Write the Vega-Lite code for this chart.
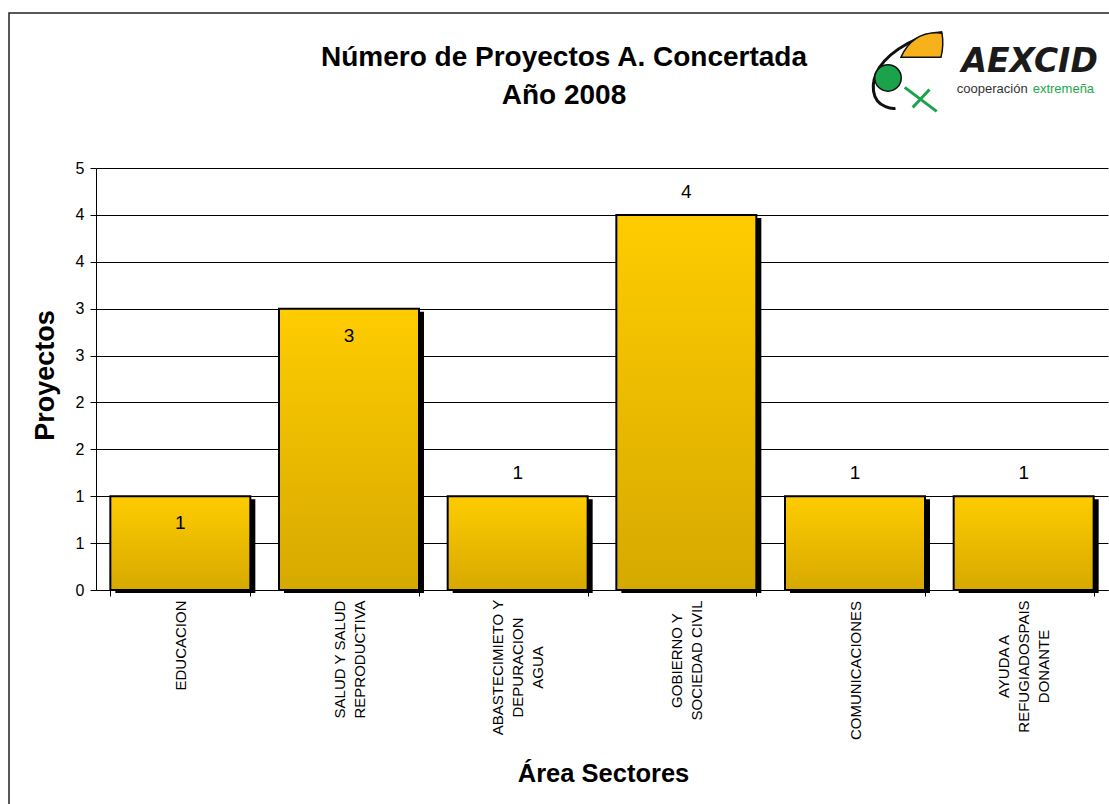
{
  "$schema": "https://vega.github.io/schema/vega-lite/v6.json",
  "autosize": {"type": "none"},
  "padding": {"left": 9, "top": 13, "right": 0, "bottom": 0},
  "width": 1110,
  "height": 800,
  "background": "white",
  "view": {"stroke": "#222", "strokeWidth": 1.5},
  "config": {"font": "Liberation Sans"},
  "title": {
    "text": ["Número de Proyectos A. Concertada", "Año 2008"],
    "anchor": "middle",
    "frame": "group",
    "offset": -97,
    "fontSize": 28,
    "fontWeight": "bold",
    "font": "Liberation Sans",
    "lineHeight": 38,
    "color": "#000"
  },
  "layer": [
    {
      "data": {
        "values": [
          {"sector": "EDUCACION", "proyectos": 1},
          {"sector": "SALUD Y SALUD|REPRODUCTIVA", "proyectos": 3},
          {"sector": "ABASTECIMIETO Y|DEPURACION|AGUA", "proyectos": 1},
          {"sector": "GOBIERNO Y|SOCIEDAD CIVIL", "proyectos": 4},
          {"sector": "COMUNICACIONES", "proyectos": 1},
          {"sector": "AYUDA A|REFUGIADOSPAIS|DONANTE", "proyectos": 1}
        ]
      },
      "encoding": {
        "x": {
          "field": "sector",
          "type": "nominal",
          "sort": null,
          "scale": {"range": [87, 1099], "paddingInner": 0.17, "paddingOuter": 0.085},
          "axis": {
            "title": "Área Sectores",
            "titleFontSize": 25.5,
            "titleFontWeight": "bold",
            "titleColor": "#000",
            "titleX": 594,
            "titleY": 183,
            "titleBaseline": "middle",
            "titleAlign": "center",
            "offset": -223,
            "labelAngle": -90,
            "labelAlign": "center",
            "labelBaseline": "middle",
            "labelFontSize": 15,
            "labelLineHeight": 20,
            "labelPadding": {
              "condition": [
                {"test": "datum.value == 'EDUCACION'", "value": 49},
                {"test": "datum.value == 'SALUD Y SALUD|REPRODUCTIVA'", "value": 63},
                {"test": "datum.value == 'ABASTECIMIETO Y|DEPURACION|AGUA'", "value": 71},
                {"test": "datum.value == 'GOBIERNO Y|SOCIEDAD CIVIL'", "value": 64},
                {"test": "datum.value == 'COMUNICACIONES'", "value": 74}
              ],
              "value": 70
            },
            "labelOffset": {
              "condition": [
                {"test": "datum.value == 'SALUD Y SALUD|REPRODUCTIVA' || datum.value == 'GOBIERNO Y|SOCIEDAD CIVIL'", "value": -10},
                {"test": "datum.value == 'ABASTECIMIETO Y|DEPURACION|AGUA' || datum.value == 'AYUDA A|REFUGIADOSPAIS|DONANTE'", "value": -20}
              ],
              "value": 0
            },
            "labelLimit": 0,
            "labelColor": "#000",
            "labelExpr": "split(datum.label, '|')",
            "tickBand": "extent",
            "tickSize": 6,
            "tickColor": "#000",
            "domainColor": "#000",
            "grid": false
          }
        },
        "y": {
          "field": "proyectos",
          "type": "quantitative",
          "scale": {"domain": [0, 4.5], "nice": false, "range": [577, 155]},
          "axis": {
            "title": "Proyectos",
            "titleFontSize": 27,
            "titleFontWeight": "bold",
            "titleColor": "#000",
            "titleAngle": 270,
            "titleX": -51,
            "titleY": 362,
            "titleBaseline": "middle",
            "titleAlign": "center",
            "offset": -87,
            "values": [0, 0.5, 1, 1.5, 2, 2.5, 3, 3.5, 4, 4.5],
            "format": ".0f",
            "labelFontSize": 16,
            "labelPadding": 6,
            "labelColor": "#000",
            "tickSize": 6,
            "tickColor": "#000",
            "domainColor": "#000",
            "grid": true,
            "gridColor": "#000",
            "gridWidth": 1
          }
        }
      },
      "layer": [
        {"mark": {"type": "bar", "color": "#000", "xOffset": 5, "yOffset": 3}},
        {
          "mark": {
            "type": "bar",
            "fill": {
              "gradient": "linear", "x1": 0, "y1": 0, "x2": 0, "y2": 1,
              "stops": [{"offset": 0, "color": "#FFCC00"}, {"offset": 1, "color": "#D6A900"}]
            },
            "stroke": "#000",
            "strokeWidth": 2
          }
        },
        {
          "transform": [{"filter": "datum.sector == 'EDUCACION' || datum.sector == 'SALUD Y SALUD|REPRODUCTIVA'"}],
          "mark": {"type": "text", "dy": 27, "fontSize": 19, "color": "#000", "baseline": "middle"},
          "encoding": {"text": {"field": "proyectos", "type": "quantitative"}}
        },
        {
          "transform": [{"filter": "datum.sector != 'EDUCACION' && datum.sector != 'SALUD Y SALUD|REPRODUCTIVA'"}],
          "mark": {"type": "text", "dy": -23, "fontSize": 19, "color": "#000", "baseline": "middle"},
          "encoding": {"text": {"field": "proyectos", "type": "quantitative"}}
        }
      ]
    },
    {
      "data": {"values": [{"t": "AEXCID"}]},
      "mark": {"type": "text", "font": "DejaVu Sans", "fontSize": 33, "fontWeight": "bold", "fontStyle": "italic", "color": "#1a1a1a", "align": "center", "baseline": "middle", "dx": 6},
      "encoding": {
        "x": {"datum": "AYUDA A|REFUGIADOSPAIS|DONANTE", "type": "nominal", "title": "Área Sectores"},
        "y": {"datum": 5.63, "type": "quantitative", "title": "Proyectos"},
        "text": {"field": "t"}
      }
    },
    {
      "data": {"values": [{"t": "cooperación"}]},
      "mark": {"type": "text", "fontSize": 13, "color": "#333", "align": "right", "baseline": "middle", "dx": 4},
      "encoding": {
        "x": {"datum": "AYUDA A|REFUGIADOSPAIS|DONANTE", "type": "nominal", "title": "Área Sectores"},
        "y": {"datum": 5.34, "type": "quantitative", "title": "Proyectos"},
        "text": {"field": "t"}
      }
    },
    {
      "data": {"values": [{"t": "extremeña"}]},
      "mark": {"type": "text", "fontSize": 13, "color": "#22A84A", "align": "left", "baseline": "middle", "dx": 9},
      "encoding": {
        "x": {"datum": "AYUDA A|REFUGIADOSPAIS|DONANTE", "type": "nominal", "title": "Área Sectores"},
        "y": {"datum": 5.34, "type": "quantitative", "title": "Proyectos"},
        "text": {"field": "t"}
      }
    },
    {
      "data": {"values": [{"t": "trazo"}]},
      "mark": {"type": "point", "shape": "M 0.82 -0.97 C 0.3 -0.95 -0.45 -0.55 -0.75 -0.1 C -1.0 0.3 -0.95 0.75 -0.6 0.88 C -0.5 0.92 -0.4 0.93 -0.35 0.92", "size": 6400, "filled": false, "stroke": "#111", "strokeWidth": 3, "opacity": 1, "xOffset": 54.5},
      "encoding": {
        "x": {"datum": "COMUNICACIONES", "type": "nominal", "title": "Área Sectores"},
        "y": {"datum": 5.53, "type": "quantitative", "title": "Proyectos"}
      }
    },
    {
      "data": {"values": [{"t": "equis"}]},
      "mark": {"type": "point", "shape": "M -0.12 0.4 L 0.68 1.0 M 0.08 0.9 L 0.5 0.45", "size": 6400, "filled": false, "stroke": "#1AA34A", "strokeWidth": 3, "opacity": 1, "xOffset": 54.5},
      "encoding": {
        "x": {"datum": "COMUNICACIONES", "type": "nominal", "title": "Área Sectores"},
        "y": {"datum": 5.53, "type": "quantitative", "title": "Proyectos"}
      }
    },
    {
      "data": {"values": [{"t": "hoja"}]},
      "mark": {"type": "point", "shape": "M -0.8 0.48 Q -0.3 -0.6 0.84 -0.48 Q 0.92 0 0.8 0.48 Z", "size": 2500, "filled": true, "fill": "#F7B21B", "stroke": "#111", "strokeWidth": 1.5, "opacity": 1, "xOffset": 66},
      "encoding": {
        "x": {"datum": "COMUNICACIONES", "type": "nominal", "title": "Área Sectores"},
        "y": {"datum": 5.81, "type": "quantitative", "title": "Proyectos"}
      }
    },
    {
      "data": {"values": [{"t": "circulo"}]},
      "mark": {"type": "point", "shape": "circle", "size": 700, "filled": true, "fill": "#1AA34A", "stroke": "#111", "strokeWidth": 1.5, "opacity": 1, "xOffset": 33},
      "encoding": {
        "x": {"datum": "COMUNICACIONES", "type": "nominal", "title": "Área Sectores"},
        "y": {"datum": 5.46, "type": "quantitative", "title": "Proyectos"}
      }
    }
  ]
}
